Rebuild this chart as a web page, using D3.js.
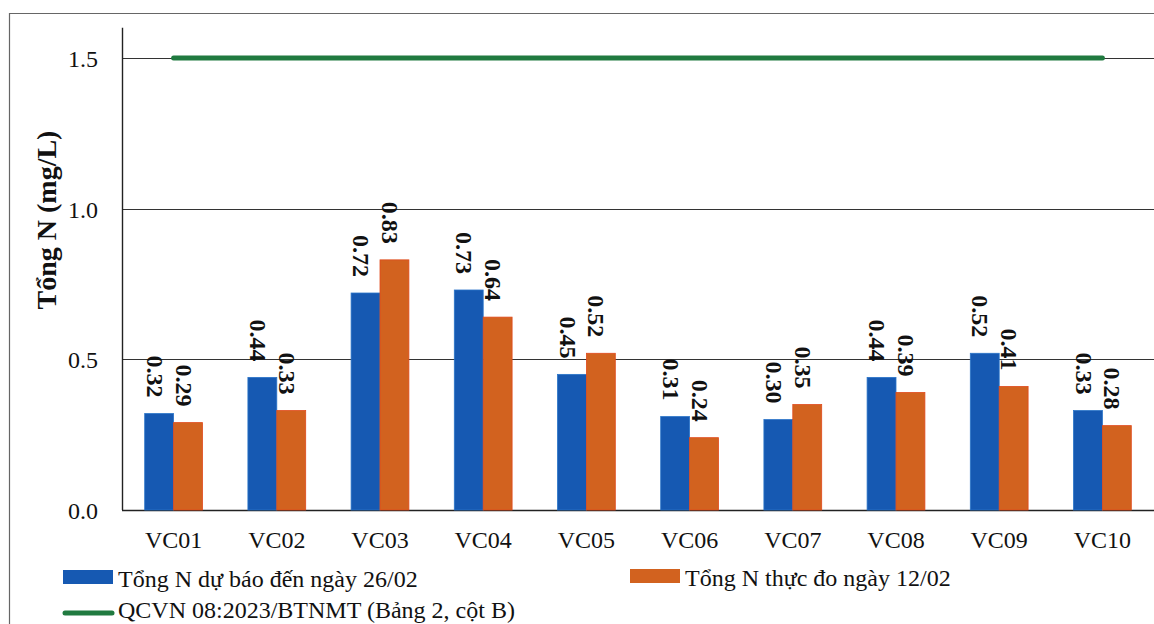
<!DOCTYPE html>
<html><head><meta charset="utf-8">
<script src="https://cdn.jsdelivr.net/npm/d3@7"></script>
<style>body{margin:0;background:#fff}svg{display:block}</style>
</head><body>
<script>
const categories = ["VC01","VC02","VC03","VC04","VC05","VC06","VC07","VC08","VC09","VC10"];
const forecast = [0.32,0.44,0.72,0.73,0.45,0.31,0.30,0.44,0.52,0.33];
const measured = [0.29,0.33,0.83,0.64,0.52,0.24,0.35,0.39,0.41,0.28];
const qcvn = [1.5,1.5,1.5,1.5,1.5,1.5,1.5,1.5,1.5,1.5];
const yTicks = [0,0.5,1.0,1.5];
const seriesNames = ["Tổng N dự báo đến ngày 26/02","Tổng N thực đo ngày 12/02","QCVN 08:2023/BTNMT (Bảng 2, cột B)"];
const yTitle = "Tổng N (mg/L)";

const FF="'Liberation Serif'";
const W=1154,H=624;
const svg=d3.select("body").append("svg").attr("width",W).attr("height",H);
const blue="#1659b2", orange="#d2621f", green="#207a40";
function T(sel){return sel.attr("font-family",FF).attr("fill","#111");}

// frame
svg.append("path").attr("d","M9.5,624 V13.5 H1154").attr("fill","none").attr("stroke","#666").attr("stroke-width",1.2);

const x=d3.scaleBand().domain(categories).range([122,1154]).paddingInner(0.44).paddingOuter(0.22);
const xs=d3.scaleBand().domain([0,1]).range([0,x.bandwidth()]);
const y=d3.scaleLinear().domain([0,1.6]).range([510,27.8]);

// gridlines
svg.append("g").selectAll("line").data(yTicks).join("line")
  .attr("x1",122).attr("x2",1154).attr("y1",d=>Math.round(y(d))+0.5).attr("y2",d=>Math.round(y(d))+0.5)
  .attr("stroke",d=>d===0?"#222":"#333").attr("stroke-width",d=>d===0?1.6:1.1);
// y axis line
svg.append("line").attr("x1",122.5).attr("x2",122.5).attr("y1",y(1.6)).attr("y2",y(0)).attr("stroke","#222").attr("stroke-width",1.4);

// tick labels
T(svg.append("g").selectAll("text").data(yTicks).join("text"))
  .attr("x",98).attr("y",d=>y(d)+9).attr("text-anchor","end").attr("font-size",24)
  .text(d=>d3.format(".1f")(d));

// y title
T(svg.append("text")).attr("transform","translate(56,220) rotate(-90)").attr("text-anchor","middle")
  .attr("font-size",28).attr("font-weight","bold").text(yTitle);

// bars
const data=[forecast,measured];
const colors=[blue,orange];
data.forEach((arr,si)=>{
  const g=svg.append("g");
  g.selectAll("rect").data(arr).join("rect")
    .attr("x",(d,i)=>x(categories[i])+xs(si)).attr("width",xs.bandwidth())
    .attr("y",d=>y(d)).attr("height",d=>y(0)-y(d))
    .attr("fill",colors[si]).attr("stroke",si===1?"#e04a1c":"#2a74c8").attr("stroke-width",0.8);
  T(g.selectAll("text").data(arr).join("text"))
    .attr("transform",(d,i)=>`translate(${x(categories[i])+xs(si)+xs.bandwidth()/2-4},${y(d)-16}) rotate(90)`)
    .attr("text-anchor","end").attr("dy","0.35em").attr("font-size",24).attr("font-weight","bold")
    .text(d=>d3.format(".2f")(d));
});

// QCVN line
const line=d3.line().x((d,i)=>x(categories[i])+x.bandwidth()/2).y(d=>y(d));
svg.append("path").datum(qcvn).attr("d",line).attr("fill","none").attr("stroke",green).attr("stroke-width",5).attr("stroke-linecap","round");

// x labels
T(svg.append("g").selectAll("text").data(categories).join("text"))
  .attr("x",d=>x(d)+x.bandwidth()/2).attr("y",548).attr("text-anchor","middle").attr("font-size",24).text(d=>d);

// legend
const lg=svg.append("g");
lg.append("rect").attr("x",63).attr("y",570).attr("width",50).attr("height",14).attr("fill",blue);
T(lg.append("text")).attr("x",118).attr("y",587).attr("font-size",24).text(seriesNames[0]);
lg.append("rect").attr("x",630).attr("y",569).attr("width",50).attr("height",14).attr("fill",orange);
T(lg.append("text")).attr("x",685).attr("y",586).attr("font-size",24).text(seriesNames[1]);
lg.append("line").attr("x1",65).attr("x2",112).attr("y1",613).attr("y2",613).attr("stroke",green).attr("stroke-width",5).attr("stroke-linecap","round");
T(lg.append("text")).attr("x",118).attr("y",618).attr("font-size",24).text(seriesNames[2]);
</script>
</body></html>
